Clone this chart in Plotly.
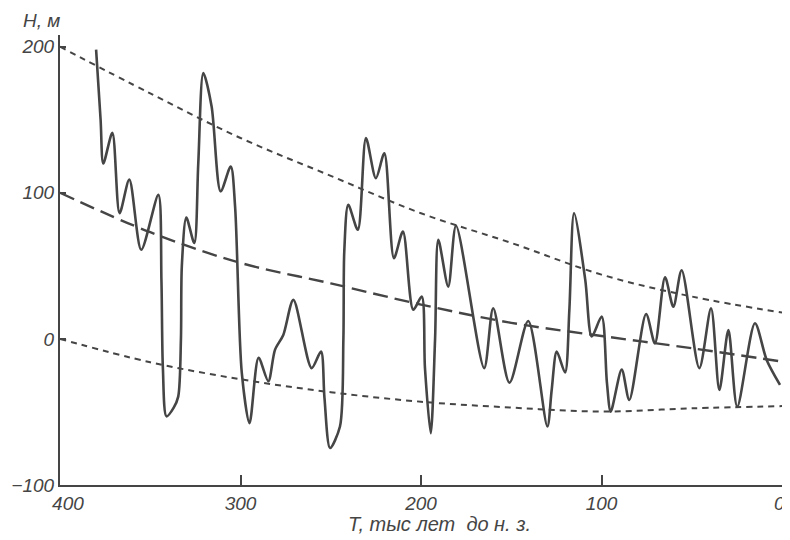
import plotly.graph_objects as go

# Sea level curve (solid), T in thousand years BP, H in metres
t_level = [380, 377.5, 376, 371, 367, 361.6, 355, 345.5, 343.8, 343, 341, 337, 334.5,
           333, 332.5, 330, 325.6, 323.4, 320.6, 316, 311, 305.4, 303, 299.3, 295,
           290, 284.6, 280.9, 276.3, 270.7, 260.6, 255.4, 253.5, 250.4, 244.9, 243,
           242.5, 240.3, 235, 230.5, 225, 220.3, 215, 210, 204.3, 199.6, 197.8, 194.6,
           192.2, 190.4, 184.9, 180.6, 165, 160, 151, 140.6, 130, 127.6, 124.8, 120.2,
           117.8, 115.2, 109, 105.4, 99.9, 97, 94.9, 88.8, 84.6, 75.3, 70.4, 64.8,
           60.2, 55.6, 45.8, 39.3, 34.7, 29.7, 24.8, 15, 8.5, 1.1]
h_level = [198, 150, 120, 141, 86, 109, 61, 98.6, 40, -20, -53, -47, -39.5,
           0, 50, 83, 65.6, 120, 182, 159, 101, 118, 90.6, -23, -57.7,
           -13, -29, -7.5, 2.7, 26.7, -20, -8.7, -40, -74.7, -60, 0,
           60, 91.8, 74.7, 137.5, 110, 127, 55.3, 73.5, 19.9, 29, -20, -64.6,
           0, 67.8, 35.8, 77.4, -20, 21, -30, 12.3, -60, -35, -8.7, -23,
           20, 86, 40.4, 1.6, 15.3, -30, -49.8, -21, -41.8, 17, -3, 42.2,
           22, 47, -20, 21, -35, 6, -46.4, 10.7, -14.4, -31.5]

# Envelope / trend curves
t_env = [400, 350, 300, 250, 200, 150, 100, 50, 0]
h_upper = [200, 168, 137.5, 111.6, 86, 65.7, 44, 29, 18]
h_middle = [100, 73, 52, 38, 23.5, 11, 2, -6.4, -15.5]
h_lower = [0, -16, -27.6, -36.5, -43, -47, -49.7, -47.5, -46]

x_tickvals = [400, 300, 200, 100, 0]
x_ticktext = ["\u00a0\u00a0\u00a0400", "300", "200", "100", "0\u00a0"]
y_tickvals = [-100, 0, 100, 200]
y_ticktext = ["\u2212100", "0", "100", "200"]

ink = "#454545"
fnt = dict(family="Liberation Sans", size=19, color=ink, style="italic")

fig = go.Figure()
fig.add_trace(go.Scatter(x=t_env, y=h_upper, mode="lines",
                         line=dict(color=ink, width=2, dash="6px,5px", shape="spline"),
                         hoverinfo="skip", showlegend=False))
fig.add_trace(go.Scatter(x=t_env, y=h_middle, mode="lines",
                         line=dict(color=ink, width=2.4, dash="15px,7px", shape="spline"),
                         hoverinfo="skip", showlegend=False))
fig.add_trace(go.Scatter(x=t_env, y=h_lower, mode="lines",
                         line=dict(color=ink, width=2, dash="6px,5px", shape="spline"),
                         hoverinfo="skip", showlegend=False))
fig.add_trace(go.Scatter(x=t_level, y=h_level, mode="lines",
                         line=dict(color=ink, width=2.6, shape="spline", smoothing=0.8),
                         showlegend=False))

# the page adds an 8px body margin, so the figure is sized to fit inside the window
fig.update_layout(
    width=782, height=532,
    margin=dict(l=52, r=8, t=27, b=55),
    paper_bgcolor="white", plot_bgcolor="white",
    font=fnt,
    xaxis=dict(range=[400, 0], showgrid=False, zeroline=False, automargin=False,
               showline=True, linecolor=ink, linewidth=2,
               ticks="inside", ticklen=10, tickwidth=1.5, tickcolor=ink,
               tickvals=x_tickvals, ticktext=x_ticktext, tickfont=fnt),
    yaxis=dict(range=[-100, 208], showgrid=False, zeroline=False, automargin=False,
               showline=True, linecolor=ink, linewidth=2,
               ticks="inside", ticklen=6, tickwidth=1.5, tickcolor=ink,
               tickvals=y_tickvals, ticktext=y_ticktext, tickfont=fnt),
    annotations=[
        dict(text="H, м", xref="paper", yref="paper", x=0, y=1, xanchor="right",
             yanchor="bottom", xshift=2, yshift=2, showarrow=False, font=fnt),
        dict(text="T, тыс лет  до н. з.", xref="paper", yref="paper", x=0.526, y=0,
             xanchor="center", yanchor="top", yshift=-26, showarrow=False,
             font=dict(family="Liberation Sans", size=20, color=ink, style="italic")),
    ],
)

fig.write_html("out.html")
